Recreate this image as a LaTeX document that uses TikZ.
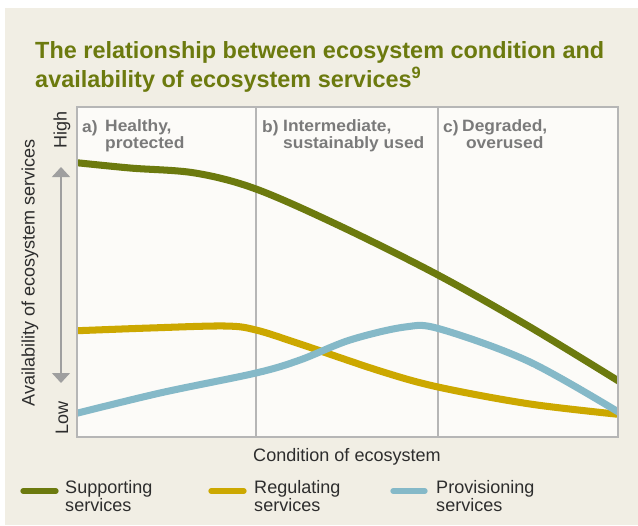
\documentclass[tikz,border=0pt]{standalone}
\usepackage{fontspec}
\setmainfont{Liberation Sans}
\newfontfamily\panelfont[FakeStretch=1.06]{Liberation Sans}
\usepackage{tikz}
\usetikzlibrary{positioning}
\usetikzlibrary{arrows.meta}
\definecolor{olive}{RGB}{108,122,14}
\definecolor{gold}{RGB}{204,168,0}
\definecolor{skyblue}{RGB}{133,185,200}
\definecolor{paper}{RGB}{241,238,228}
\definecolor{plotbg}{RGB}{252,251,248}
\definecolor{framegray}{RGB}{182,182,182}
\definecolor{labelgray}{RGB}{122,122,122}
\definecolor{textgray}{RGB}{45,45,45}
\tikzset {
  % title lines
  heading/.style={anchor=base west, inner sep=0pt, text=olive,
    font=\bfseries\fontsize{20}{24}\selectfont},
  % panel headings a) b) c)
  panel/.style={anchor=base west, inner sep=0pt, text=labelgray,
    font=\panelfont\bfseries\fontsize{14}{14.2}\selectfont},
  % axis and legend text
  axis/.style={inner sep=0pt, text=textgray, font=\fontsize{15.4}{16}\selectfont},
  key/.style={anchor=base west, inner sep=0pt, align=left, text=textgray,
    font=\fontsize{15.4}{15.3}\selectfont},
  % plot box and dividers
  frame/.style={draw=framegray, line width=1.3pt, fill=plotbg},
  divider/.style={draw=framegray, line width=1pt},
  % service curves
  supporting/.style={olive, line width=6pt},
  regulating/.style={gold, line width=6pt},
  provisioning/.style={skyblue, line width=6pt},
  keyline/.style={line width=4.5pt, line cap=round},
  yarrow/.style={draw=gray!75, line width=1.2pt,
    {Triangle[width=0.54cm,length=0.3cm]}-{Triangle[width=0.54cm,length=0.3cm]}},
}

\begin{document}
\begin{tikzpicture}[x=0.03cm, y=-0.03cm]
  \useasboundingbox (0,0) rectangle (638,525);
  \fill[paper] (5,8) rectangle (638,525);

  % title
  \node[heading] (t1) at (35,58) {The relationship between ecosystem condition and};
  \node[heading] (t2) at (35,87) {availability of ecosystem services\textsuperscript{9}};

  % plot area
  \path[frame] (77,107) rectangle (618,437);
  \coordinate (b1) at (256,107); \coordinate (b1e) at (256,437);
  \coordinate (b2) at (438,107); \coordinate (b2e) at (438,437);
  \draw[divider] (b1) -- (b1e);
  \draw[divider] (b2) -- (b2e);

  \begin{scope}
    \clip (77,107) rectangle (618,437);
    \draw[supporting] plot[smooth, tension=0.55] coordinates
      {(70,162) (130,168) (195,173) (256,189) (340,226) (438,275) (530,327) (625,385)};
    \draw[regulating] plot[smooth, tension=0.55] coordinates
      {(70,331) (150,328) (225,326) (256,330) (300,344) (380,371) (438,387) (530,404) (625,415)};
    \draw[provisioning] plot[smooth, tension=0.55] coordinates
      {(70,415) (160,393) (256,373) (300,360) (350,340) (405,327) (440,329) (530,362) (625,416)};
  \end{scope}
  \draw[framegray, line width=1.3pt] (77,107) rectangle (618,437);

  % panel headings (multi-line nodes sit on their last baseline)
  \node[panel] (pa) at (82,132) {a)};
  \node[panel, align=left] (la) at (105,148.5) {Healthy,\\protected};
  \node[panel] (pb) at (262,132) {b)};
  \node[panel, align=left] (lb) at (283,148.5) {Intermediate,\\sustainably used};
  \node[panel] (pc) at (443,132) {c)};
  \node[panel, align=center] (lc) at (462,148.5) {Degraded,\\overused};

  % y axis
  \node[axis, rotate=90] (ylab) at (30,273) {Availability of ecosystem services};
  \node[axis, rotate=90] (high) at (62,130) {High};
  \node[axis, rotate=90] (low) at (62,418) {Low};
  \coordinate (ytop) at (61,167);
  \coordinate (ybot) at (61,383);
  \draw[yarrow] (ytop) -- (ybot);

  % x axis
  \node[axis, anchor=base] (xlab) at (347,461) {Condition of ecosystem};

  % legend
  \coordinate (k1a) at (23,491); \coordinate (k1b) at (56,491);
  \coordinate (k2a) at (211,491); \coordinate (k2b) at (244,491);
  \coordinate (k3a) at (393,491); \coordinate (k3b) at (425,491);
  \draw[keyline, olive] (k1a) -- (k1b);
  \draw[keyline, gold] (k2a) -- (k2b);
  \draw[keyline, skyblue] (k3a) -- (k3b);
  \node[key] (s1) at (65,511) {Supporting\\services};
  \node[key] (s2) at (254,511) {Regulating\\services};
  \node[key] (s3) at (436,511) {Provisioning\\services};
\end{tikzpicture}
\end{document}
